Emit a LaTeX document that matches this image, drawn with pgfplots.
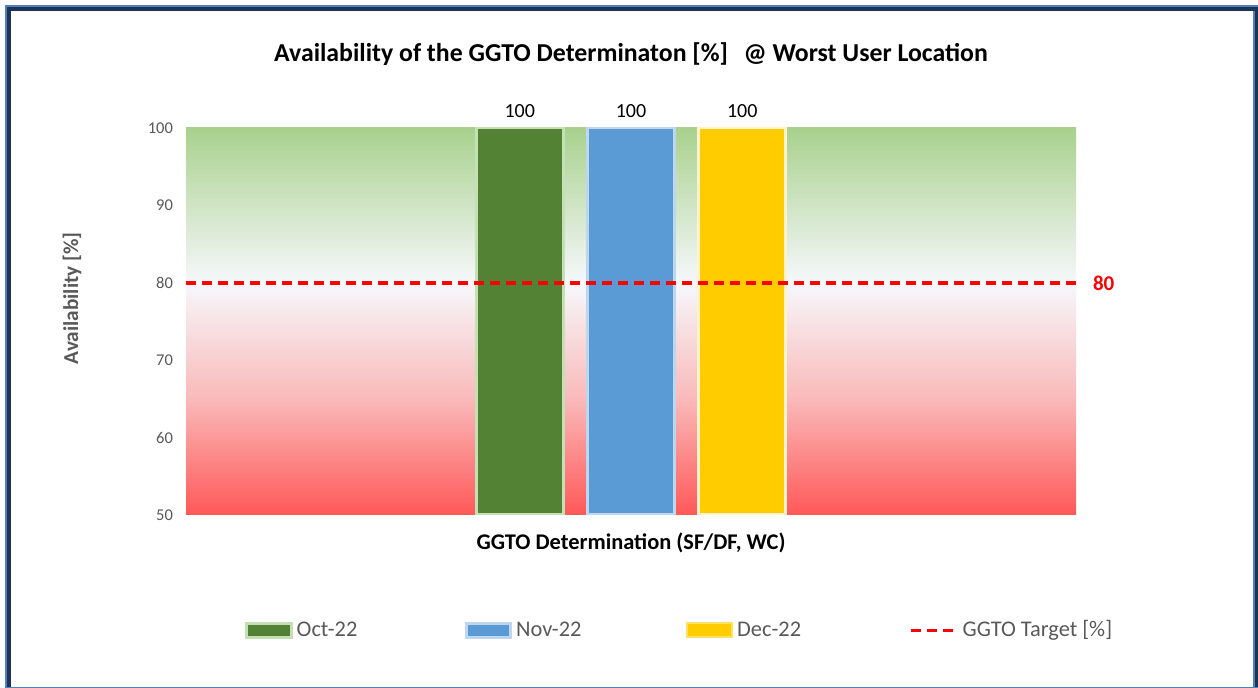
\documentclass[border=0pt]{standalone}
\usepackage{fontspec}
\setmainfont{Carlito}
\usepackage{pgfplots}
\pgfplotsset{compat=1.18}
\definecolor{gA}{RGB}{169,209,142}
\definecolor{wA}{RGB}{246,248,252}
\definecolor{rB}{RGB}{250,185,185}
\definecolor{rA}{RGB}{255,88,88}
\definecolor{navy}{RGB}{31,52,82}
\definecolor{lblue}{RGB}{79,129,189}
\definecolor{octF}{RGB}{84,130,53}
\definecolor{octB}{RGB}{197,224,180}
\definecolor{novF}{RGB}{91,155,213}
\definecolor{novB}{RGB}{189,215,238}
\definecolor{decF}{RGB}{255,204,0}
\definecolor{decB}{RGB}{255,242,204}
\definecolor{txtgray}{RGB}{89,89,89}
\pgfdeclareverticalshading{bgshade}{100bp}{color(0bp)=(rA); color(25bp)=(rA); color(40bp)=(rB); color(55bp)=(wA); color(75bp)=(gA); color(100bp)=(gA)}
\begin{document}
\begin{tikzpicture}[x=1pt,y=1pt]
\useasboundingbox (0,0) rectangle (629,344);
\fill[lblue] (2.5,0) rectangle (629,341.5);
\fill[navy] (3.5,0.5) rectangle (629,340.5);
\fill[white] (5.5,0.5) rectangle (626.5,338.5);
\fill[lblue] (626.5,0.5) rectangle (627.5,338.5);
\begin{axis}[
  at={(93pt,86.5pt)}, anchor=south west,
  scale only axis, width=445pt, height=193.5pt,
  xmin=-4, xmax=4, ymin=50, ymax=100,
  clip mode=individual,
  axis line style={draw=none},
  major tick length=0pt,
  xtick=\empty,
  ytick={50,60,70,80,90,100},
  /pgf/number format/assume math mode=true,
  yticklabel style={font=\fontsize{8.25}{10}\selectfont, text=txtgray, xshift=-3pt},
  title={Availability of the GGTO Determinaton [\%]\hspace{0.6em}@ Worst User Location},
  every axis title/.style={at={(axis description cs:0.5,1.192)}, anchor=center, font=\bfseries\fontsize{12.9}{15}\selectfont},
  xlabel={GGTO Determination (SF/DF, WC)},
  xlabel style={at={(axis description cs:0.5,-0.072)}, anchor=center, font=\bfseries\fontsize{11.2}{13}\selectfont},
  ylabel={Availability [\%]},
  ylabel style={at={(axis description cs:-0.128,0.56)}, anchor=center, rotate=0, font=\bfseries\fontsize{10.6}{12}\selectfont, text=txtgray},
  legend columns=4,
  legend cell align=left,
  legend style={at={(axis description cs:0.0665,-0.298)}, anchor=west, draw=none, fill=none, inner sep=0pt, outer sep=0pt, font=\fontsize{11.2}{13}\selectfont, text=txtgray, /tikz/every even column/.append style={column sep=0pt}},
]
\shade[shading=bgshade] (axis cs:-4,50) rectangle (axis cs:4,100);
\addplot[ybar, bar width=0.78, bar shift=0pt, fill=octF, draw=octB, line width=1.5pt,
  nodes near coords, every node near coord/.append style={font=\fontsize{10}{12}\selectfont, text=black, yshift=1pt},
  legend image code/.code={\draw[fill=octF, draw=octB, line width=1.5pt] (0.75pt,-3.5pt) rectangle (23pt,3.5pt);}]
  coordinates {(-1,100)};
\addlegendentry{\makebox[82pt][l]{Oct-22}}
\addplot[ybar, bar width=0.78, bar shift=0pt, fill=novF, draw=novB, line width=1.5pt,
  nodes near coords, every node near coord/.append style={font=\fontsize{10}{12}\selectfont, text=black, yshift=1pt},
  legend image code/.code={\draw[fill=novF, draw=novB, line width=1.5pt] (0.75pt,-3.5pt) rectangle (23pt,3.5pt);}]
  coordinates {(0,100)};
\addlegendentry{\makebox[83pt][l]{Nov-22}}
\addplot[ybar, bar width=0.78, bar shift=0pt, fill=decF, draw=decB, line width=1.5pt,
  nodes near coords, every node near coord/.append style={font=\fontsize{10}{12}\selectfont, text=black, yshift=1pt},
  legend image code/.code={\draw[fill=decF, draw=decF!60!white, line width=1pt] (0.5pt,-3.5pt) rectangle (23pt,3.5pt);}]
  coordinates {(1,100)};
\addlegendentry{\makebox[84pt][l]{Dec-22}}
\addplot[red, line width=1.75pt, dash pattern=on 5pt off 3pt,
  legend image code/.code={\draw[red, line width=1.75pt, dash pattern=on 5pt off 3pt] (0pt,0pt) -- (23pt,0pt);}]
  coordinates {(-4,80) (4,80)};
\addlegendentry{GGTO Target [\%]}
\node[anchor=west, xshift=5pt, yshift=-0.5pt, font=\bfseries\fontsize{10.5}{12}\selectfont, text=red] at (axis cs:4,80) {80};
\end{axis}
\end{tikzpicture}
\end{document}
